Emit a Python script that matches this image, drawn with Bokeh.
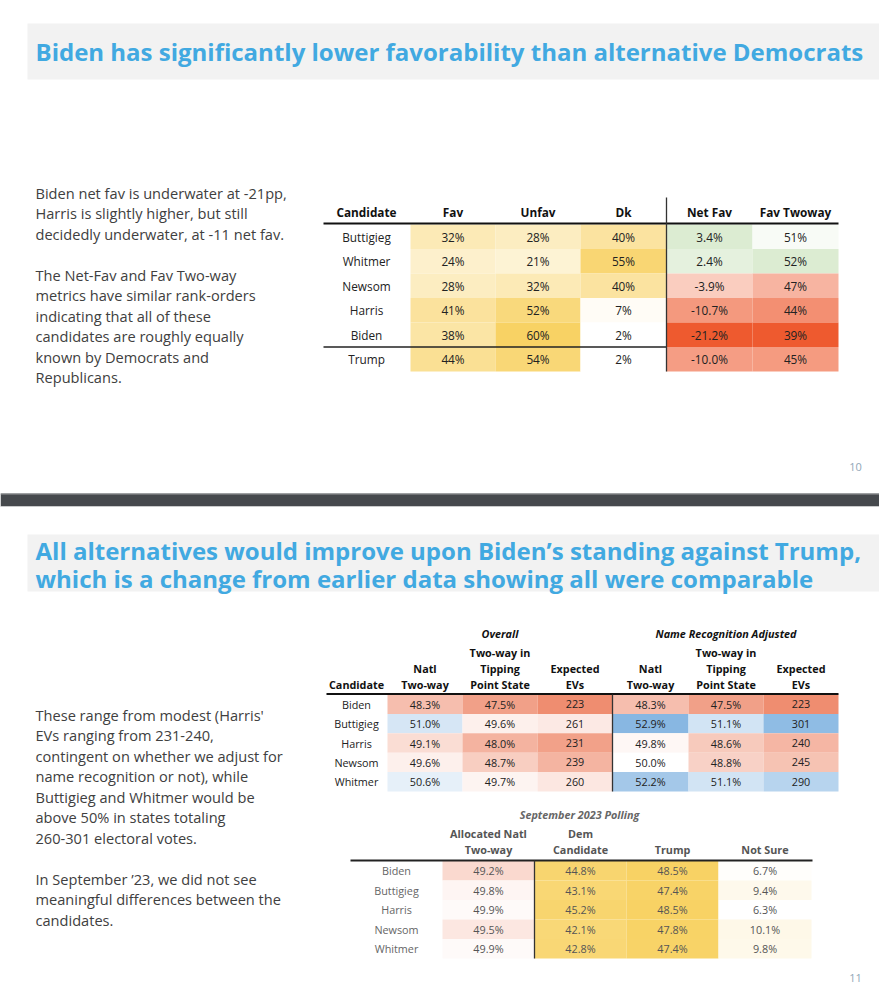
from bokeh.plotting import figure
from bokeh.models import Range1d, ColumnDataSource
from bokeh.embed import file_html
from bokeh.resources import INLINE

# ---------------- data ----------------
candidates1 = ["Buttigieg", "Whitmer", "Newsom", "Harris", "Biden", "Trump"]
fav = [32, 24, 28, 41, 38, 44]
unfav = [28, 21, 32, 52, 60, 54]
dk = [40, 55, 40, 7, 2, 2]
net_fav = [3.4, 2.4, -3.9, -10.7, -21.2, -10.0]
fav_twoway = [51, 52, 47, 44, 39, 45]
headers1 = ["Fav", "Unfav", "Dk", "Net Fav", "Fav Twoway"]

candidates2 = ["Biden", "Buttigieg", "Harris", "Newsom", "Whitmer"]
natl_overall = [48.3, 51.0, 49.1, 49.6, 50.6]
tip_overall = [47.5, 49.6, 48.0, 48.7, 49.7]
evs_overall = [223, 261, 231, 239, 260]
natl_nr = [48.3, 52.9, 49.8, 50.0, 52.2]
tip_nr = [47.5, 51.1, 48.6, 48.8, 51.1]
evs_nr = [223, 301, 240, 245, 290]
headers2 = [["Natl", "Two-way"], ["Two-way in", "Tipping", "Point State"], ["Expected", "EVs"]]

candidates3 = ["Biden", "Buttigieg", "Harris", "Newsom", "Whitmer"]
alloc_natl = [49.2, 49.8, 49.9, 49.5, 49.9]
dem_cand = [44.8, 43.1, 45.2, 42.1, 42.8]
trump_sep = [48.5, 47.4, 48.5, 47.8, 47.4]
not_sure = [6.7, 9.4, 6.3, 10.1, 9.8]
headers3 = [["Allocated Natl", "Two-way"], ["Dem", "Candidate"], ["Trump"], ["Not Sure"]]

title1 = "Biden has significantly lower favorability than alternative Democrats"
title2 = ["All alternatives would improve upon Biden\u2019s standing against Trump,",
          "which is a change from earlier data showing all were comparable"]
para1 = ["Biden net fav is underwater at -21pp,", "Harris is slightly higher, but still",
         "decidedly underwater, at -11 net fav.", "",
         "The Net-Fav and Fav Two-way", "metrics have similar rank-orders",
         "indicating that all of these", "candidates are roughly equally",
         "known by Democrats and", "Republicans."]
para2 = ["These range from modest (Harris'", "EVs ranging from 231-240,",
         "contingent on whether we adjust for", "name recognition or not), while",
         "Buttigieg and Whitmer would be", "above 50% in states totaling",
         "260-301 electoral votes.", "",
         "In September \u201923, we did not see", "meaningful differences between the",
         "candidates."]

# ---------------- colour helpers ----------------
def hx(c):
    c = c.lstrip("#")
    return tuple(int(c[i:i + 2], 16) for i in (0, 2, 4))

def mix(c1, c2, t):
    t = max(0.0, min(1.0, t))
    a, b = hx(c1), hx(c2)
    return "#%02x%02x%02x" % tuple(int(round(x + (y - x) * t)) for x, y in zip(a, b))

YEL = "#f8d264"
RED1 = "#ee5a2f"
GRN1 = "#dcecd2"
RED2 = "#ec7a58"
BLU2 = "#6fa8dc"

def yellow(v, lo, hi, g=1.15):
    t = (v - lo) / (hi - lo)
    return mix("#ffffff", YEL, max(0, t) ** g)

def div1(v, mid, lo, hi):
    if v < mid:
        return mix("#ffffff", RED1, ((mid - v) / (mid - lo)) ** 0.7)
    return mix("#ffffff", GRN1, ((v - mid) / (hi - mid)) ** 0.9)

def div2(v, mid, lo, hi):
    if v < mid:
        return mix("#ffffff", RED2, (mid - v) / (mid - lo))
    return mix("#ffffff", BLU2, (v - mid) / (hi - mid))

# ---------------- figure ----------------
W, H = 879, 1000
p = figure(width=W, height=H, x_range=Range1d(0, W), y_range=Range1d(H, 0),
           output_backend="svg", toolbar_location=None, min_border=0)
p.axis.visible = False
p.grid.visible = False
p.outline_line_color = None
p.background_fill_color = "white"
p.border_fill_color = "white"

BODY = "Open Sans"
TITLE = "Open Sans"
TSIZE = 24
PSIZE = 14.6

def txt(xs, ys, texts, size, color="#222222", style="normal", align="center", font=BODY):
    src = ColumnDataSource(dict(x=list(xs), y=list(ys), t=list(texts)))
    p.text(x="x", y="y", text="t", source=src, text_font_size=f"{size}px",
           text_color=color, text_font_style=style, text_align=align,
           text_baseline="middle", text_font={"value": font})

def cells(lefts, rights, tops, bottoms, colors):
    src = ColumnDataSource(dict(l=lefts, r=rights, t=tops, b=bottoms, c=colors))
    p.quad(left="l", right="r", top="t", bottom="b", fill_color="c", line_color=None, source=src)

# ---------------- slide 1 ----------------
p.quad(left=27, right=879, top=23, bottom=79, fill_color="#f2f2f2", line_color=None)
txt([35], [51], [title1], TSIZE, color="#41a9e1", style="bold", align="left", font=TITLE)

LH = 20.5
txt([35] * len(para1), [192 + i * LH for i in range(len(para1))], para1, PSIZE,
    color="#404040", align="left")

edges1 = [410, 495, 580, 666, 752, 838]
row_top1, rh1 = 224, 24.5
n1 = len(candidates1)
cols1 = [fav, unfav, dk, net_fav, fav_twoway]
for j, col in enumerate(cols1):
    L, R = edges1[j], edges1[j + 1]
    if j < 3:
        colors = [yellow(v, 2, 60) for v in col]
        labels = [f"{v}%" for v in col]
    elif j == 3:
        colors = [div1(v, 0, min(col), max(col)) for v in col]
        labels = [f"{v:.1f}%" for v in col]
    else:
        colors = [div1(v, 50.8, min(col), max(col)) for v in col]
        labels = [f"{v}%" for v in col]
    cells([L] * n1, [R] * n1, [row_top1 + i * rh1 for i in range(n1)],
          [row_top1 + (i + 1) * rh1 for i in range(n1)], colors)
    txt([(L + R) / 2] * n1, [row_top1 + (i + 0.5) * rh1 for i in range(n1)], labels, 11.8, color="#222222")
    txt([(L + R) / 2], [211], [headers1[j]], 11.8, color="#111111", style="bold")
txt([366], [211], ["Candidate"], 11.8, color="#111111", style="bold")
txt([366] * n1, [row_top1 + (i + 0.5) * rh1 for i in range(n1)], candidates1, 11.8, color="#222222")
p.line(x=[323, 838], y=[223, 223], line_color="#111111", line_width=1.8)
p.line(x=[323, 666], y=[row_top1 + 5 * rh1, row_top1 + 5 * rh1], line_color="#222222", line_width=1.3)
p.line(x=[666, 666], y=[197, row_top1 + n1 * rh1], line_color="#333333", line_width=1.3)

txt([855], [466], ["10"], 11, color="#8fa7b7")

# separator bar between slides
p.quad(left=0, right=879, top=493, bottom=506, fill_color="#46494d", line_color=None)
p.line(x=[0, 879], y=[493.5, 493.5], line_color="#9a9c9e", line_width=1)
p.line(x=[0, 879], y=[506, 506], line_color="#c9cacb", line_width=1)

# ---------------- slide 2 ----------------
p.quad(left=27, right=879, top=534, bottom=591, fill_color="#f2f2f2", line_color=None)
txt([35, 35], [549.5, 578], title2, TSIZE, color="#41a9e1", style="bold", align="left", font=TITLE)

txt([35] * len(para2), [714 + i * LH for i in range(len(para2))], para2, PSIZE,
    color="#404040", align="left")

edges2 = [387, 462, 537, 612, 688, 763, 838]
row_top2, rh2 = 694, 19.4
n2 = len(candidates2)
cols2 = [natl_overall, tip_overall, evs_overall, natl_nr, tip_nr, evs_nr]
for j, col in enumerate(cols2):
    L, R = edges2[j], edges2[j + 1]
    if j % 3 == 2:
        colors = [div2(v, 270, 215, 310) for v in col]
        labels = [f"{v}" for v in col]
    else:
        colors = [div2(v, 50, 46.5, 53.5) for v in col]
        labels = [f"{v:.1f}%" for v in col]
    cells([L] * n2, [R] * n2, [row_top2 + i * rh2 for i in range(n2)],
          [row_top2 + (i + 1) * rh2 for i in range(n2)], colors)
    txt([(L + R) / 2] * n2, [row_top2 + (i + 0.5) * rh2 for i in range(n2)], labels, 10.8, color="#222222")
    hl = headers2[j % 3]
    txt([(L + R) / 2] * len(hl), [684 - (len(hl) - 1 - k) * 16 for k in range(len(hl))], hl, 10.8,
        color="#111111", style="bold")
txt([(edges2[1] + edges2[2]) / 2], [633], ["Overall"], 10.8, color="#111111", style="bold italic")
txt([(edges2[4] + edges2[5]) / 2], [633], ["Name Recognition Adjusted"], 10.8, color="#111111", style="bold italic")
txt([356], [684], ["Candidate"], 10.8, color="#111111", style="bold")
txt([356] * n2, [row_top2 + (i + 0.5) * rh2 for i in range(n2)], candidates2, 10.8, color="#222222")
p.line(x=[326, 838], y=[693.5, 693.5], line_color="#111111", line_width=2)
p.line(x=[612, 612], y=[694, row_top2 + n2 * rh2], line_color="#333333", line_width=1.3)

# September 2023 table
edges3 = [442, 534, 626, 718, 811]
row_top3, rh3 = 860.5, 19.5
n3 = len(candidates3)
cols3 = [alloc_natl, dem_cand, trump_sep, not_sure]
yl, yh = min(min(dem_cand), min(trump_sep), min(not_sure)), max(max(dem_cand), max(trump_sep), max(not_sure))
for j, col in enumerate(cols3):
    L, R = edges3[j], edges3[j + 1]
    if j == 0:
        colors = [mix("#ffffff", "#fad9cf", (50 - v) / 0.8) for v in col]
    else:
        colors = [yellow(v, yl, yh, 0.8) for v in col]
    labels = [f"{v:.1f}%" for v in col]
    cells([L] * n3, [R] * n3, [row_top3 + i * rh3 for i in range(n3)],
          [row_top3 + (i + 1) * rh3 for i in range(n3)], colors)
    txt([(L + R) / 2] * n3, [row_top3 + (i + 0.5) * rh3 for i in range(n3)], labels, 10.8, color="#555555")
    hl = headers3[j]
    txt([(L + R) / 2] * len(hl), [849 - (len(hl) - 1 - k) * 16 for k in range(len(hl))], hl, 10.8,
        color="#555555", style="bold")
txt([579], [814], ["September 2023 Polling"], 10.8, color="#666666", style="bold italic")
txt([396] * n3, [row_top3 + (i + 0.5) * rh3 for i in range(n3)], candidates3, 10.8, color="#666666")
p.line(x=[350, 812], y=[860, 860], line_color="#222222", line_width=2)
p.line(x=[534, 534], y=[860, row_top3 + n3 * rh3], line_color="#333333", line_width=1.3)

txt([855], [977], ["11"], 11, color="#8fa7b7")

open("out.html", "w").write(file_html(p, INLINE))
